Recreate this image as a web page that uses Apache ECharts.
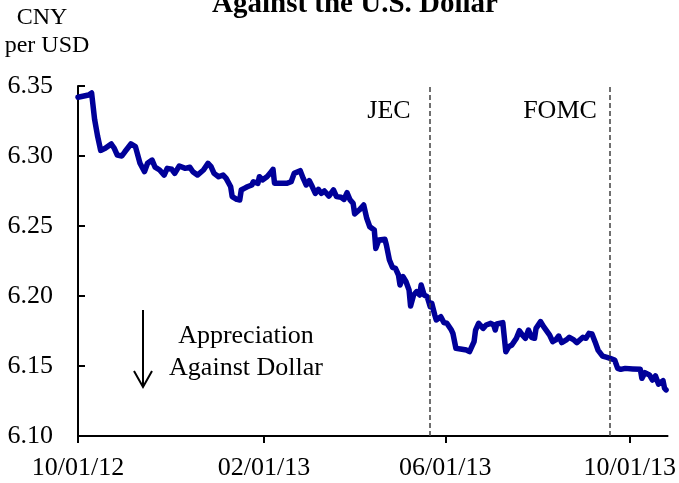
<!DOCTYPE html>
<html>
<head>
<meta charset="utf-8">
<script src="https://cdn.jsdelivr.net/npm/echarts@6/dist/echarts.min.js"></script>
<style>
  html, body { margin: 0; padding: 0; background: #fff; }
  #main { width: 679px; height: 483px; }
</style>
</head>
<body>
<div id="main"></div>
<script>
// CNY per USD
var dates = [
  '2012-10-01','2012-10-08','2012-10-10','2012-10-12','2012-10-14','2012-10-16','2012-10-19','2012-10-23','2012-10-25','2012-10-27','2012-10-30',
  '2012-11-01','2012-11-05','2012-11-08','2012-11-11','2012-11-14','2012-11-16','2012-11-19','2012-11-21','2012-11-24','2012-11-27','2012-11-29',
  '2012-12-02','2012-12-04','2012-12-07','2012-12-11','2012-12-14','2012-12-16','2012-12-19','2012-12-23','2012-12-26','2012-12-28','2012-12-30',
  '2013-01-02','2013-01-05','2013-01-07','2013-01-10','2013-01-11','2013-01-14','2013-01-16','2013-01-17','2013-01-19','2013-01-21','2013-01-24','2013-01-25','2013-01-28','2013-01-29','2013-01-31',
  '2013-02-03','2013-02-05','2013-02-07','2013-02-08','2013-02-11','2013-02-16','2013-02-19','2013-02-21','2013-02-25','2013-02-27',
  '2013-03-01','2013-03-03','2013-03-05','2013-03-07','2013-03-09','2013-03-11','2013-03-13','2013-03-14','2013-03-16','2013-03-19','2013-03-21','2013-03-24','2013-03-26','2013-03-28','2013-03-30',
  '2013-04-01','2013-04-02','2013-04-05','2013-04-08','2013-04-10','2013-04-12','2013-04-15','2013-04-16','2013-04-18','2013-04-22','2013-04-23','2013-04-25','2013-04-27','2013-04-29',
  '2013-05-01','2013-05-02','2013-05-04','2013-05-06','2013-05-08','2013-05-09','2013-05-11','2013-05-13','2013-05-15','2013-05-16','2013-05-18','2013-05-20','2013-05-22','2013-05-23','2013-05-25','2013-05-26','2013-05-27','2013-05-29','2013-05-31',
  '2013-06-02','2013-06-05','2013-06-06','2013-06-08','2013-06-11','2013-06-15','2013-06-17','2013-06-20','2013-06-21','2013-06-23','2013-06-26','2013-06-28',
  '2013-07-01','2013-07-03','2013-07-04','2013-07-05','2013-07-09','2013-07-11','2013-07-13','2013-07-15','2013-07-18','2013-07-20','2013-07-22','2013-07-24','2013-07-26','2013-07-28','2013-07-30','2013-07-31',
  '2013-08-03','2013-08-05','2013-08-09','2013-08-11','2013-08-13','2013-08-15','2013-08-17','2013-08-20','2013-08-22','2013-08-25','2013-08-27','2013-08-31',
  '2013-09-02','2013-09-04','2013-09-06','2013-09-08','2013-09-10','2013-09-13','2013-09-16','2013-09-18','2013-09-21','2013-09-23','2013-09-25','2013-09-28',
  '2013-10-03','2013-10-08','2013-10-09','2013-10-11','2013-10-14','2013-10-16','2013-10-18','2013-10-20','2013-10-21','2013-10-23','2013-10-24','2013-10-25'
];
var rates = [
  6.342,6.3436,6.345,6.326,6.314,6.304,6.3055,6.3086,6.3055,6.3007,6.300,
  6.303,6.3086,6.3067,6.2948,6.2888,6.2948,6.2971,6.292,6.290,6.2864,6.2912,
  6.2905,6.2876,6.2929,6.2912,6.292,6.2888,6.2864,6.290,6.2948,6.2924,6.2876,
  6.2852,6.2864,6.284,6.278,6.271,6.269,6.2686,6.2757,6.2769,6.278,6.2793,6.2816,6.2805,6.2852,6.2829,
  6.2852,6.2876,6.2905,6.2805,6.2805,6.2805,6.2816,6.2876,6.2895,6.284,
  6.2793,6.2824,6.278,6.2733,6.2762,6.2733,6.275,6.2745,6.2714,6.2757,6.271,6.2705,6.269,6.2738,6.2686,
  6.2662,6.2586,6.2614,6.265,6.2555,6.2495,6.2471,6.234,6.240,6.2405,6.2364,6.2257,6.2205,6.2198,
  6.215,6.2079,6.2138,6.2102,6.2043,6.1929,6.2007,6.2031,6.2007,6.2079,6.2007,6.1995,6.1924,6.1948,6.1864,6.1829,6.1817,6.1852,6.181,
  6.1805,6.1757,6.1733,6.1626,6.1621,6.1614,6.1602,6.1674,6.1757,6.1805,6.1769,6.1793,
  6.1805,6.1793,6.1757,6.18,6.181,6.1602,6.1638,6.165,6.1698,6.1752,6.1721,6.1698,6.1757,6.1705,6.1698,6.1769,
  6.1817,6.1781,6.1721,6.1674,6.1686,6.1714,6.1667,6.1686,6.1705,6.1686,6.1667,6.1705,
  6.1698,6.1733,6.1729,6.1674,6.1614,6.1571,6.1562,6.1555,6.1543,6.1483,6.1476,6.1483,
  6.1479,6.1476,6.1412,6.1452,6.1436,6.14,6.1429,6.1371,6.1357,6.1395,6.1341,6.1329
];
var tickDates = ['2012-10-01', '2013-02-01', '2013-06-01', '2013-10-01'];
var eventNames = ['JEC', 'FOMC'];
var eventDates = ['2013-05-22', '2013-09-18'];

function toTime(s) {
  var p = s.split('-');
  return new Date(+p[0], +p[1] - 1, +p[2]).getTime();
}
function pad(n) { return (n < 10 ? '0' : '') + n; }

var serif = '"Liberation Serif", "Times New Roman", serif';
var chart = echarts.init(document.getElementById('main'), null, { renderer: 'canvas' });

var tickTimes = tickDates.map(toTime);

function label(text, x, y, size, weight) {
  return {
    type: 'text', x: x, y: y,
    style: {
      text: text, font: (weight ? weight + ' ' : '') + size + 'px ' + serif,
      fill: '#000', align: 'center', verticalAlign: 'middle'
    }
  };
}

var option = {
  animation: false,
  backgroundColor: '#fff',
  textStyle: { fontFamily: serif, color: '#000' },
  grid: { left: 78, right: 10, top: 86, bottom: 47 },
  xAxis: {
    type: 'value',
    min: toTime('2012-10-01'),
    max: toTime('2013-10-26'),
    axisLine: { lineStyle: { color: '#000', width: 2 } },
    axisTick: {
      show: true, length: 7, inside: false,
      customValues: tickTimes,
      lineStyle: { color: '#000', width: 2 }
    },
    axisLabel: {
      customValues: tickTimes,
      fontSize: 26, fontFamily: serif, color: '#000', margin: 19,
      formatter: function (v) {
        var d = new Date(v);
        return pad(d.getMonth() + 1) + '/' + pad(d.getDate()) + '/' + pad(d.getFullYear() % 100);
      }
    },
    splitLine: { show: false }
  },
  yAxis: {
    type: 'value',
    min: 6.10, max: 6.35, interval: 0.05,
    axisLine: { show: true, lineStyle: { color: '#000', width: 2 } },
    axisTick: { show: true, inside: true, length: 7, lineStyle: { color: '#000', width: 2 } },
    axisLabel: {
      fontSize: 26, fontFamily: serif, color: '#000', margin: 25,
      formatter: function (v) { return v.toFixed(2); }
    },
    splitLine: { show: false }
  },
  series: [{
    type: 'line',
    data: dates.map(function (d, i) { return [toTime(d), rates[i]]; }),
    showSymbol: false,
    symbol: 'none',
    lineStyle: { color: '#000099', width: 5.5, join: 'round', cap: 'round' },
    markLine: {
      silent: true,
      symbol: 'none',
      label: { show: false },
      lineStyle: { color: '#404040', type: [5, 3], width: 1.5 },
      data: eventDates.map(function (d) { return { xAxis: toTime(d) }; })
    }
  }],
  graphic: [
    label('Against the U.S. Dollar', 355, 5, 29, 'bold'),
    label('CNY', 42, 18, 24),
    label('per USD', 47, 46, 24),
    label(eventNames[0], 389, 111, 26),
    label(eventNames[1], 560, 111, 26),
    label('Appreciation', 246, 336, 26),
    label('Against Dollar', 246, 368, 26),
    { type: 'line', shape: { x1: 143, y1: 310, x2: 143, y2: 386 },
      style: { stroke: '#000', lineWidth: 2 } },
    { type: 'polyline', shape: { points: [[134, 371], [143, 387], [152, 371]] },
      style: { stroke: '#000', lineWidth: 2, fill: null } }
  ]
};

chart.setOption(option);
</script>
</body>
</html>
